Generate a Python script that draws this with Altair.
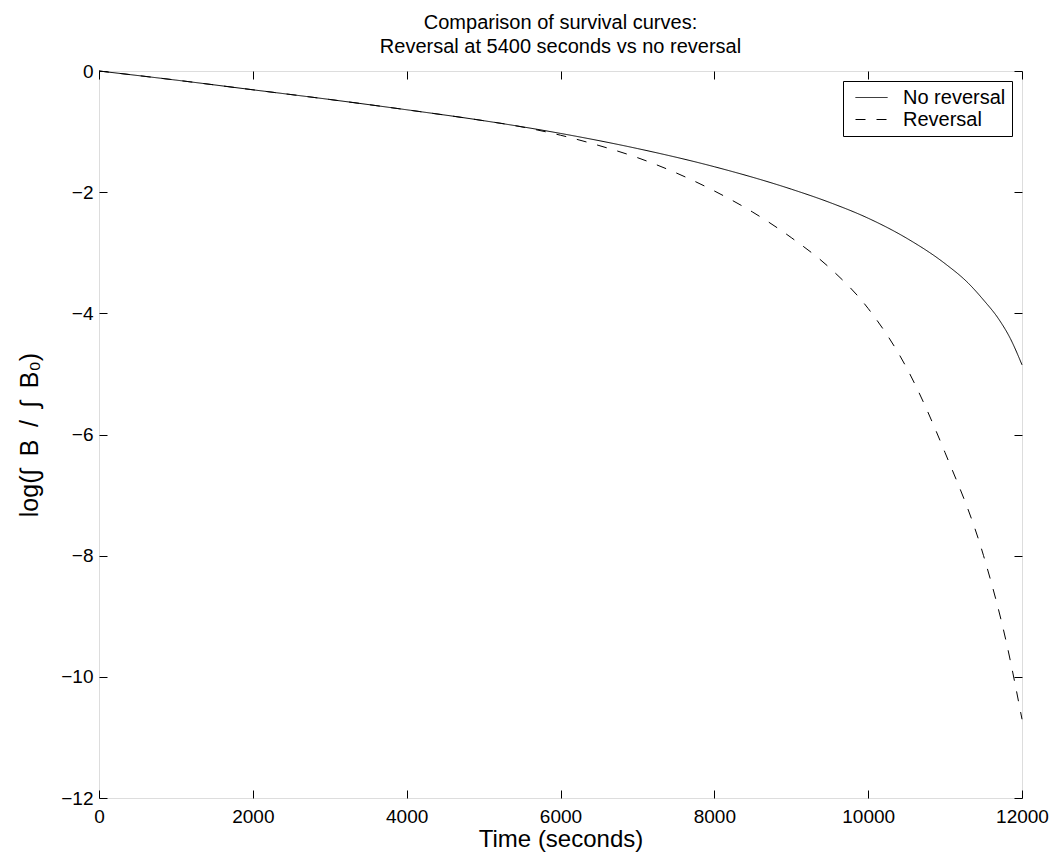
import altair as alt
import pandas as pd

# Time points (seconds)
time_no_rev = [0, 1000, 2000, 3000, 4000, 5000, 6000, 7000, 8000, 9000, 9500,
               10000, 10500, 11000, 11300, 11500, 11700, 11850, 12000]
val_no_rev = [0.0, -0.15, -0.31, -0.47, -0.64, -0.82, -1.03, -1.28, -1.58, -1.95, -2.17,
              -2.43, -2.76, -3.18, -3.5, -3.78, -4.1, -4.42, -4.85]

time_rev = [0, 1000, 2000, 3000, 4000, 5000, 5400, 6000, 6500, 7000, 7500, 8000,
            8500, 9000, 9500, 10000, 10500, 11000, 11500, 11800, 12000]
val_rev = [0.0, -0.15, -0.31, -0.47, -0.64, -0.82, -0.9, -1.06, -1.23, -1.43, -1.68, -1.98,
           -2.33, -2.75, -3.25, -3.92, -4.9, -6.3, -8.0, -9.45, -10.7]

series_names = ["No reversal", "Reversal"]
x_ticks = [0, 2000, 4000, 6000, 8000, 10000, 12000]
y_ticks = [-12, -10, -8, -6, -4, -2, 0]

df = pd.concat([
    pd.DataFrame({"t": time_no_rev, "v": val_no_rev, "s": series_names[0]}),
    pd.DataFrame({"t": time_rev, "v": val_rev, "s": series_names[1]}),
])

FONT = "Liberation Sans"
XDOM = [0, 12000]
YDOM = [-12, 0]
TICK = 8
EN = "\u2002"
Y_TITLE = f"log(∫{EN}B{EN}/{EN}∫{EN}B₀)"

base = alt.Chart(df)

main = base.mark_line(color="black", strokeWidth=1, interpolate="monotone").encode(
    x=alt.X("t:Q", scale=alt.Scale(domain=XDOM, nice=False),
            axis=alt.Axis(title="Time (seconds)", values=x_ticks, format="d",
                          tickSize=0, domain=False, grid=False, labelPadding=9,
                          labelFontSize=19, titleFontSize=24, titleFontWeight="normal",
                          titlePadding=1, labelFont=FONT, titleFont=FONT,
                          labelColor="black", titleColor="black", labelFlush=False)),
    y=alt.Y("v:Q", scale=alt.Scale(domain=YDOM, nice=False),
            axis=alt.Axis(title=Y_TITLE, values=y_ticks,
                          tickSize=0, domain=False, grid=False, labelPadding=6,
                          labelFontSize=19, titleFontSize=25, titleFontWeight="normal",
                          titlePadding=18, labelFont=FONT, titleFont=FONT,
                          labelColor="black", titleColor="black", labelFlush=False)),
    strokeDash=alt.StrokeDash("s:N",
                              scale=alt.Scale(domain=series_names, range=[[1, 0], [10, 11]]),
                              legend=alt.Legend(title=None, orient="top-right", offset=10,
                                                strokeColor="black", fillColor="white",
                                                padding=6, labelFontSize=20, labelFont=FONT,
                                                labelColor="black", symbolSize=1024,
                                                symbolStrokeWidth=1, symbolStrokeColor="black",
                                                symbolType="stroke", rowPadding=1,
                                                clipHeight=21, symbolOffset=6,
                                                labelOffset=15)),
)

def tick_layer(xorient, yorient):
    return base.mark_line(opacity=0).encode(
        x=alt.X("t:Q", scale=alt.Scale(domain=XDOM, nice=False),
                axis=alt.Axis(orient=xorient, offset=-TICK, tickSize=TICK, labels=False,
                              domain=False, grid=False, title=None, values=x_ticks,
                              tickColor="black")),
        y=alt.Y("v:Q", scale=alt.Scale(domain=YDOM, nice=False),
                axis=alt.Axis(orient=yorient, offset=-TICK, tickSize=TICK, labels=False,
                              domain=False, grid=False, title=None, values=y_ticks,
                              tickColor="black")),
        detail="s:N",
    )

chart = alt.layer(main, tick_layer("bottom", "left"), tick_layer("top", "right")).resolve_scale(
    x="independent", y="independent"
).resolve_axis(x="independent", y="independent").properties(
    width=923, height=727,
    autosize=alt.AutoSizeParams(type="none"),
    padding={"left": 99, "top": 71, "right": 32, "bottom": 63},
    title=alt.Title(["Comparison of survival curves:", "Reversal at 5400 seconds vs no reversal"],
                    fontSize=20, fontWeight="normal", font=FONT, color="black",
                    offset=5, lineHeight=24),
).configure_view(stroke="black", strokeWidth=1).configure(background="white")

chart.save("out.html", embed_options={"renderer": "svg", "actions": False})
